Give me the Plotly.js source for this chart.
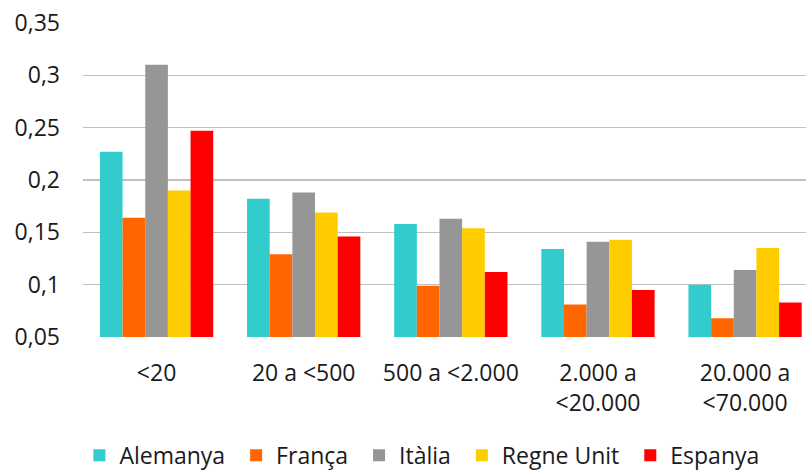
<!DOCTYPE html>
<html>
<head>
<meta charset="utf-8">
<script src="https://cdn.plot.ly/plotly-3.0.1.min.js"></script>
<style>html,body{margin:0;padding:0;overflow:hidden;background:#fff}</style>
</head>
<body>
<div id="chart" style="width:806px;height:472px"></div>
<script>
const categories = ["<20", "20 a <500", "500 a <2.000", "2.000 a<br><20.000", "20.000 a<br><70.000"];
const alemanya = [0.227, 0.182, 0.158, 0.134, 0.100];
const franca   = [0.164, 0.129, 0.099, 0.081, 0.068];
const italia   = [0.310, 0.188, 0.163, 0.141, 0.114];
const regneUnit= [0.190, 0.169, 0.154, 0.143, 0.135];
const espanya  = [0.247, 0.146, 0.112, 0.095, 0.083];
const seriesNames = ["Alemanya", "França", "Itàlia", "Regne Unit", "Espanya"];
const yTickVals = [0.05, 0.1, 0.15, 0.2, 0.25, 0.3, 0.35];
const yTickText = ["0,05", "0,1", "0,15", "0,2", "0,25", "0,3", "0,35"];

const colors = ["#33CCCC", "#FF6600", "#969696", "#FFCC00", "#FF0000"];
const values = [alemanya, franca, italia, regneUnit, espanya];
const font = "'Open Sans', Lato, sans-serif";
const fs = 23;

const traces = values.map((v, i) => ({
  type: "bar",
  name: seriesNames[i] + "\u00a0",
  x: categories,
  y: v,
  marker: {color: colors[i], line: {width: 0}},
  hoverinfo: "x+y"
}));

const layout = {
  width: 806, height: 472,
  margin: {l: 83, r: 0, t: 23, b: 135, pad: 0, autoexpand: false},
  paper_bgcolor: "#fff", plot_bgcolor: "#fff",
  font: {family: font, size: fs, color: "#1a1a1a"},
  barmode: "group",
  bargap: 0.23,
  bargroupgap: 0,
  showlegend: true,
  legend: {
    orientation: "h", x: -0.005, xanchor: "left", y: -0.377, yanchor: "middle",
    font: {family: font, size: fs, color: "#1a1a1a"},
    itemclick: false, traceorder: "normal"
  },
  xaxis: {
    type: "category",
    range: [-0.5, 4.414],
    showgrid: false, zeroline: false, showline: false, automargin: false,
    ticks: "", ticklabelstandoff: 20,
    tickfont: {family: font, size: fs, color: "#1a1a1a"}
  },
  yaxis: {
    range: [0.05, 0.35], automargin: false,
    tickvals: yTickVals, ticktext: yTickText,
    showgrid: true, gridcolor: "#c0c0c0", gridwidth: 1.5,
    zeroline: false, showline: false, ticks: "",
    ticklabelstandoff: 22,
    tickfont: {family: font, size: fs, color: "#1a1a1a"}
  }
};

Plotly.newPlot("chart", traces, layout, {displayModeBar: false, staticPlot: true});
</script>
</body>
</html>
